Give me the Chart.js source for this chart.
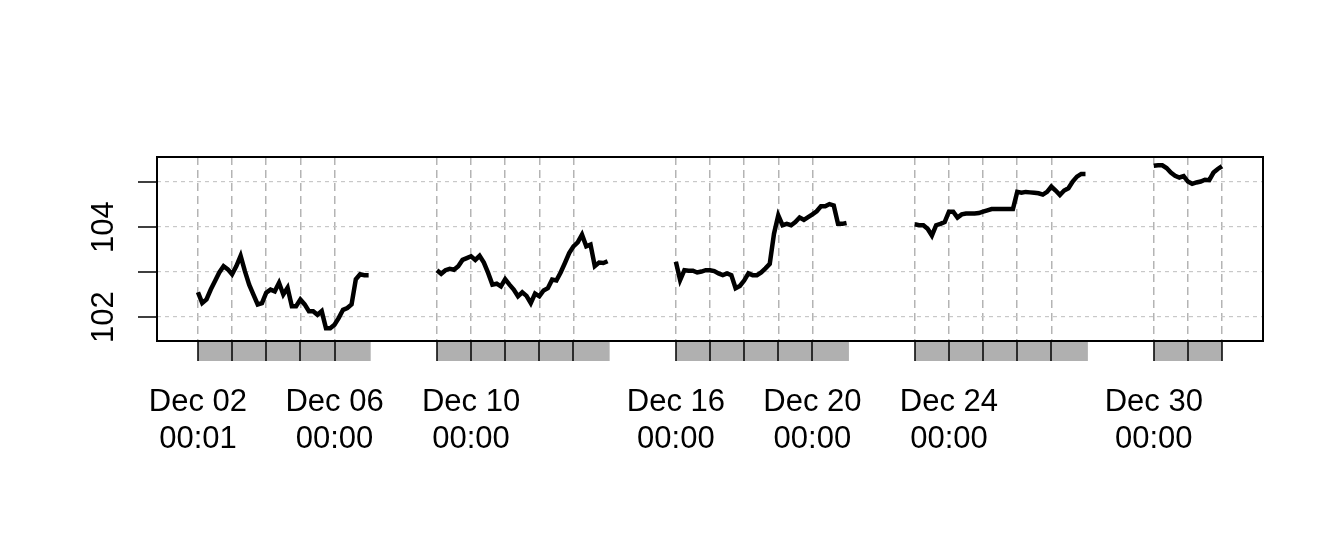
<!DOCTYPE html>
<html>
<head>
<meta charset="utf-8">
<script src="https://cdn.jsdelivr.net/npm/chart.js@4.4.1/dist/chart.umd.min.js"></script>
<style>
  html, body { margin: 0; padding: 0; background: #fff; }
  canvas { display: block; }
</style>
</head>
<body>
<canvas id="chart" width="1344" height="537"></canvas>
<script>
// --- DATA (x = days since Dec 02 00:00, one value every 3 hours) ---
const stepHours = 3;
const weekStart = [0, 7, 14, 21, 28];

const week1 = [102.55, 102.31, 102.39, 102.61, 102.80, 102.99, 103.13, 103.06,
               102.95, 103.13, 103.36, 103.02, 102.72, 102.50, 102.28, 102.31,
               102.54, 102.61, 102.57, 102.76, 102.50, 102.65, 102.24, 102.24,
               102.39, 102.28, 102.13, 102.13, 102.05, 102.13, 101.75, 101.75,
               101.83, 101.98, 102.16, 102.20, 102.28, 102.84, 102.95, 102.93, 102.93];
const week2 = [103.04, 102.96, 103.04, 103.07, 103.05, 103.13, 103.27, 103.31,
               103.35, 103.27, 103.36, 103.21, 102.98, 102.72, 102.74, 102.68,
               102.84, 102.72, 102.61, 102.46, 102.55, 102.47, 102.31, 102.52,
               102.46, 102.59, 102.64, 102.83, 102.81, 102.99, 103.20, 103.42,
               103.57, 103.66, 103.83, 103.57, 103.61, 103.13, 103.21, 103.20, 103.24];
const week3 = [103.23, 102.82, 103.04, 103.03, 103.03, 102.99, 103.01, 103.04,
               103.04, 103.02, 102.97, 102.93, 102.97, 102.93, 102.64, 102.69,
               102.81, 102.97, 102.93, 102.93, 102.99, 103.08, 103.18, 103.85,
               104.26, 104.04, 104.07, 104.04, 104.11, 104.21, 104.16, 104.22,
               104.28, 104.35, 104.46, 104.46, 104.51, 104.48, 104.07, 104.07, 104.09];
const week4 = [104.06, 104.04, 104.04, 103.96, 103.81, 104.04, 104.07, 104.11,
               104.34, 104.34, 104.21, 104.28, 104.30, 104.30, 104.30, 104.31,
               104.34, 104.37, 104.40, 104.40, 104.40, 104.40, 104.40, 104.40,
               104.78, 104.76, 104.78, 104.77, 104.76, 104.75, 104.72, 104.78,
               104.90, 104.81, 104.71, 104.81, 104.86, 105.01, 105.12, 105.18, 105.18];
const week5 = [105.36, 105.37, 105.37, 105.31, 105.21, 105.14, 105.10, 105.13,
               105.01, 104.96, 104.99, 105.01, 105.05, 105.04, 105.21, 105.29, 105.35];
const weeks = [week1, week2, week3, week4, week5];

// axis: one tick per trading day, grey bars over each trading session
const dayTicks = [0, 1, 2, 3, 4, 7, 8, 9, 10, 11, 14, 15, 16, 17, 18, 21, 22, 23, 24, 25, 28, 29, 30];
const sessionEnd = [5.06, 12.06, 19.07, 26.07, 30.0];
const labelDays = [0, 4, 8, 14, 18, 22, 28];
const labelDates = ['Dec 02', 'Dec 06', 'Dec 10', 'Dec 16', 'Dec 20', 'Dec 24', 'Dec 30'];
const labelTimes = ['00:01', '00:00', '00:00', '00:00', '00:00', '00:00', '00:00'];
const yTicks = [102, 103, 104, 105];
const yLabels = ['102', '', '104', ''];

const FONT = '31px "Liberation Sans", Arial, Helvetica, sans-serif';

// R-style axes: grey session bars, tick marks, two-line labels, box
const rAxesPlugin = {
    id: 'rAxes',
    afterDraw(chart) {
        const { ctx, chartArea: a, scales: { x, y } } = chart;
        ctx.save();

        ctx.fillStyle = '#b0b0b0';
        weekStart.forEach((s, i) => {
            const x0 = x.getPixelForValue(s);
            const x1 = x.getPixelForValue(sessionEnd[i]);
            ctx.fillRect(x0, a.bottom, x1 - x0, 20);
        });

        ctx.strokeStyle = '#000';
        ctx.lineWidth = 1.5;
        ctx.beginPath();
        dayTicks.forEach(d => {
            const px = Math.round(x.getPixelForValue(d));
            ctx.moveTo(px, a.bottom);
            ctx.lineTo(px, a.bottom + 20);
        });
        yTicks.forEach(v => {
            const py = Math.round(y.getPixelForValue(v));
            ctx.moveTo(a.left - 19, py);
            ctx.lineTo(a.left, py);
        });
        ctx.stroke();

        ctx.lineWidth = 2;
        ctx.strokeRect(a.left, a.top, a.right - a.left, a.bottom - a.top);

        ctx.fillStyle = '#000';
        ctx.font = FONT;
        ctx.textAlign = 'center';
        ctx.textBaseline = 'alphabetic';
        labelDays.forEach((d, i) => {
            const px = x.getPixelForValue(d);
            ctx.fillText(labelDates[i], px, a.bottom + 70);
            ctx.fillText(labelTimes[i], px, a.bottom + 107);
        });

        yTicks.forEach((v, i) => {
            if (!yLabels[i]) return;
            ctx.save();
            ctx.translate(a.left - 44, y.getPixelForValue(v));
            ctx.rotate(-Math.PI / 2);
            ctx.fillText(yLabels[i], 0, 0);
            ctx.restore();
        });

        ctx.restore();
    }
};

const datasets = weeks.map((vals, w) => ({
    data: vals.map((v, i) => ({ x: weekStart[w] + i * stepHours / 24, y: v })),
    borderColor: '#000',
    borderWidth: 4.5,
    borderJoinStyle: 'miter',
    borderCapStyle: 'butt',
    pointRadius: 0,
    tension: 0,
    fill: false
}));

new Chart(document.getElementById('chart'), {
    type: 'line',
    data: { datasets },
    options: {
        responsive: false,
        animation: false,
        devicePixelRatio: 1,
        layout: { padding: { left: 157, right: 81, top: 157, bottom: 196 } },
        plugins: { legend: { display: false }, tooltip: { enabled: false } },
        scales: {
            x: {
                type: 'linear',
                min: -1.2,
                max: 31.2,
                afterBuildTicks: s => { s.ticks = dayTicks.map(v => ({ value: v })); },
                ticks: { display: false },
                grid: { color: '#b4b4b4', lineWidth: 1.5, drawTicks: false },
                border: { display: false, dash: [8, 5] }
            },
            y: {
                type: 'linear',
                min: 101.467,
                max: 105.556,
                afterBuildTicks: s => { s.ticks = yTicks.map(v => ({ value: v })); },
                ticks: { display: false },
                grid: { color: '#c8c8c8', lineWidth: 1.2, drawTicks: false },
                border: { display: false, dash: [4, 4] }
            }
        }
    },
    plugins: [rAxesPlugin]
});
</script>
</body>
</html>
